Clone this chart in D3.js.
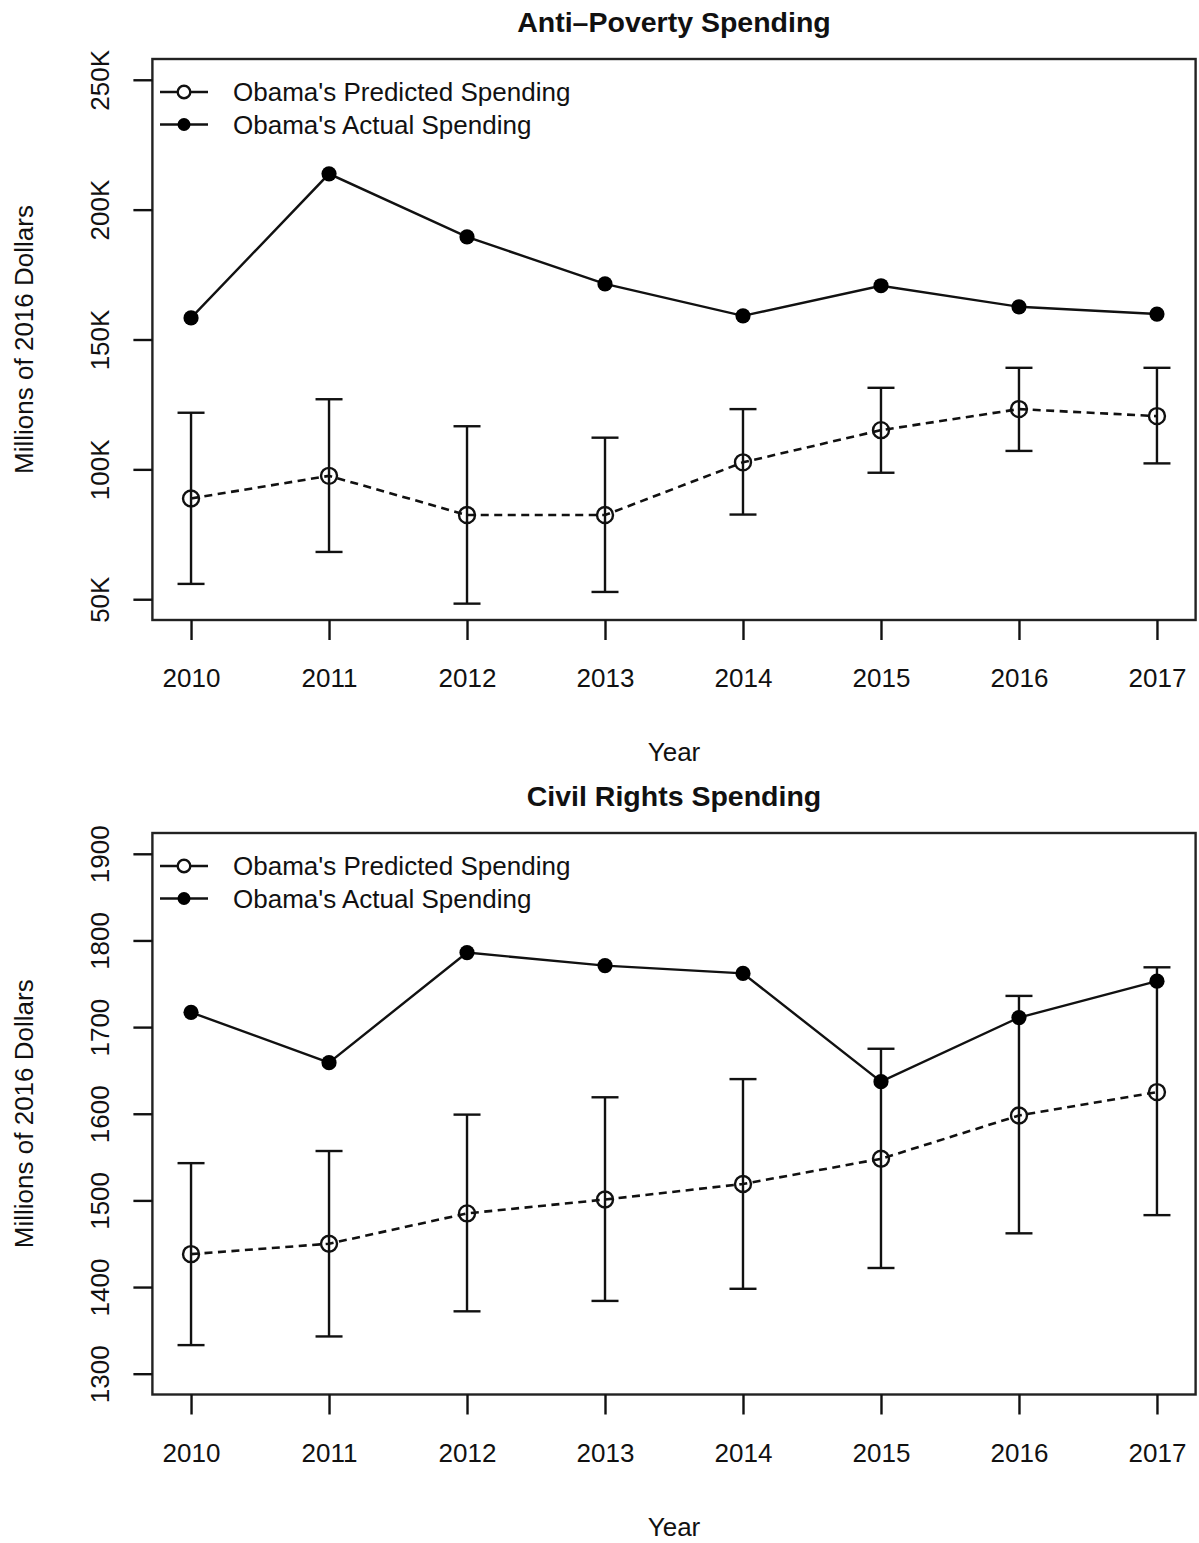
<!DOCTYPE html>
<html>
<head>
<meta charset="utf-8">
<script src="https://cdn.jsdelivr.net/npm/d3@7"></script>
<style>
  html, body { margin: 0; padding: 0; background: #fff; }
  svg { display: block; }
  text { font-family: "Liberation Sans", Arial, Helvetica, sans-serif; fill: #111; }
</style>
</head>
<body>
<svg id="chart" width="1199" height="1543"></svg>
<script>
// ---- data ----
const years = [2010, 2011, 2012, 2013, 2014, 2015, 2016, 2017];

// Anti-Poverty spending (millions of 2016 dollars)
const povertyActual    = [158300, 213800, 189500, 171400, 159100, 170700, 162600, 159800];
const povertyPredicted = [88800, 97500, 82400, 82400, 102700, 115100, 123200, 120500];
const povertyLower     = [55900, 68200, 48300, 52800, 82600, 98700, 107100, 102300];
const povertyUpper     = [121800, 127000, 116600, 112200, 123200, 131400, 139100, 139100];
const povertyTicks     = [50000, 100000, 150000, 200000, 250000];
const povertyTickLabels = ["50K", "100K", "150K", "200K", "250K"];

// Civil Rights spending (millions of 2016 dollars)
const civilActual    = [1717, 1659, 1786, 1771, 1762, 1637, 1711, 1753];
const civilPredicted = [1438, 1450, 1485, 1501, 1519, 1548, 1598, 1625];
const civilLower     = [1333, 1343, 1372, 1384, 1398, 1422, 1462, 1483];
const civilUpper     = [1543, 1557, 1599, 1619, 1640, 1675, 1736, 1769];
const civilTicks     = [1300, 1400, 1500, 1600, 1700, 1800, 1900];
const civilTickLabels = ["1300", "1400", "1500", "1600", "1700", "1800", "1900"];

const legendLabels = ["Obama's Predicted Spending", "Obama's Actual Spending"];

// ---- drawing ----
const svg = d3.select("#chart");
const FONT = 26;
const LW = 2.4;
const INK = "#111";
const boxLeft = 152.4, boxRight = 1195.6;

// R-style axis range: data limits padded by 4% on both sides
function padded(lo, hi) {
  const d = (hi - lo) * 0.04;
  return [lo - d, hi + d];
}

function panel(opts) {
  const { top, bottom, title, actual, predicted, lower, upper, ticks, tickLabels } = opts;
  const g = svg.append("g");

  const x = d3.scaleLinear()
    .domain(padded(d3.min(years), d3.max(years)))
    .range([boxLeft, boxRight]);
  const y = d3.scaleLinear()
    .domain(padded(d3.min(ticks), d3.max(ticks)))
    .range([bottom, top]);

  // error bars for the predicted series
  const eb = g.append("g").attr("stroke", INK).attr("stroke-width", LW).attr("fill", "none");
  years.forEach((yr, i) => {
    const cx = x(yr);
    eb.append("line").attr("x1", cx).attr("x2", cx).attr("y1", y(lower[i])).attr("y2", y(upper[i]));
    eb.append("line").attr("x1", cx - 13.5).attr("x2", cx + 13.5).attr("y1", y(lower[i])).attr("y2", y(lower[i]));
    eb.append("line").attr("x1", cx - 13.5).attr("x2", cx + 13.5).attr("y1", y(upper[i])).attr("y2", y(upper[i]));
  });

  const line = d3.line().x((d, i) => x(years[i])).y(d => y(d));

  g.append("path").datum(predicted)
    .attr("d", line).attr("fill", "none").attr("stroke", INK)
    .attr("stroke-width", 2.6).attr("stroke-dasharray", "8,5.5");

  g.append("path").datum(actual)
    .attr("d", line).attr("fill", "none").attr("stroke", INK)
    .attr("stroke-width", LW);

  g.append("g").selectAll("circle").data(predicted).join("circle")
    .attr("cx", (d, i) => x(years[i])).attr("cy", d => y(d)).attr("r", 8)
    .attr("fill", "none").attr("stroke", INK).attr("stroke-width", LW);

  g.append("g").selectAll("circle").data(actual).join("circle")
    .attr("cx", (d, i) => x(years[i])).attr("cy", d => y(d)).attr("r", 7.6)
    .attr("fill", "#000");

  // plot box
  g.append("rect")
    .attr("x", boxLeft).attr("y", top)
    .attr("width", boxRight - boxLeft).attr("height", bottom - top)
    .attr("fill", "none").attr("stroke", "#222").attr("stroke-width", LW);

  // x axis
  const xa = g.append("g").attr("transform", `translate(0,${bottom})`)
    .call(d3.axisBottom(x).tickValues(years).tickFormat(d3.format("d")).tickSize(20).tickSizeOuter(0));
  xa.select(".domain").remove();
  xa.selectAll(".tick line").attr("stroke", INK).attr("stroke-width", LW);
  xa.selectAll(".tick text")
    .attr("y", 67).attr("dy", 0)
    .style("font-size", FONT + "px").style("font-family", "'Liberation Sans', Arial, sans-serif").attr("fill", INK);

  // y axis
  const ya = g.append("g").attr("transform", `translate(${boxLeft},0)`)
    .call(d3.axisLeft(y).tickValues(ticks).tickFormat((d, i) => tickLabels[i]).tickSize(19).tickSizeOuter(0));
  ya.select(".domain").remove();
  ya.selectAll(".tick line").attr("stroke", INK).attr("stroke-width", LW);
  ya.selectAll(".tick text")
    .attr("x", 0).attr("dy", 0)
    .attr("transform", "translate(-43,0) rotate(-90)")
    .attr("text-anchor", "middle")
    .style("font-size", FONT + "px").style("font-family", "'Liberation Sans', Arial, sans-serif").attr("fill", INK);

  // title and axis titles
  g.append("text").attr("x", (boxLeft + boxRight) / 2).attr("y", top - 27)
    .attr("text-anchor", "middle").style("font-size", "28.5px").style("font-weight", "bold")
    .text(title);

  g.append("text").attr("x", (boxLeft + boxRight) / 2).attr("y", bottom + 141)
    .attr("text-anchor", "middle").style("font-size", FONT + "px")
    .text("Year");

  g.append("text")
    .attr("transform", `translate(32.5,${(top + bottom) / 2}) rotate(-90)`)
    .attr("text-anchor", "middle").style("font-size", FONT + "px")
    .text("Millions of 2016 Dollars");

  // legend
  const lg = g.append("g");
  [0, 1].forEach(k => {
    const ly = top + 33 + k * 32.5;
    lg.append("line").attr("x1", 160).attr("x2", 208).attr("y1", ly).attr("y2", ly)
      .attr("stroke", INK).attr("stroke-width", LW);
    if (k === 0) {
      lg.append("circle").attr("cx", 184).attr("cy", ly).attr("r", 6.3)
        .attr("fill", "#fff").attr("stroke", INK).attr("stroke-width", LW);
    } else {
      lg.append("circle").attr("cx", 184).attr("cy", ly).attr("r", 6.5).attr("fill", "#000");
    }
    lg.append("text").attr("x", 233).attr("y", ly + 9.3)
      .style("font-size", FONT + "px").text(legendLabels[k]);
  });
}

panel({
  top: 59, bottom: 620, title: "Anti\u2013Poverty Spending",
  actual: povertyActual, predicted: povertyPredicted,
  lower: povertyLower, upper: povertyUpper,
  ticks: povertyTicks, tickLabels: povertyTickLabels
});

panel({
  top: 833, bottom: 1394.5, title: "Civil Rights Spending",
  actual: civilActual, predicted: civilPredicted,
  lower: civilLower, upper: civilUpper,
  ticks: civilTicks, tickLabels: civilTickLabels
});
</script>
</body>
</html>
